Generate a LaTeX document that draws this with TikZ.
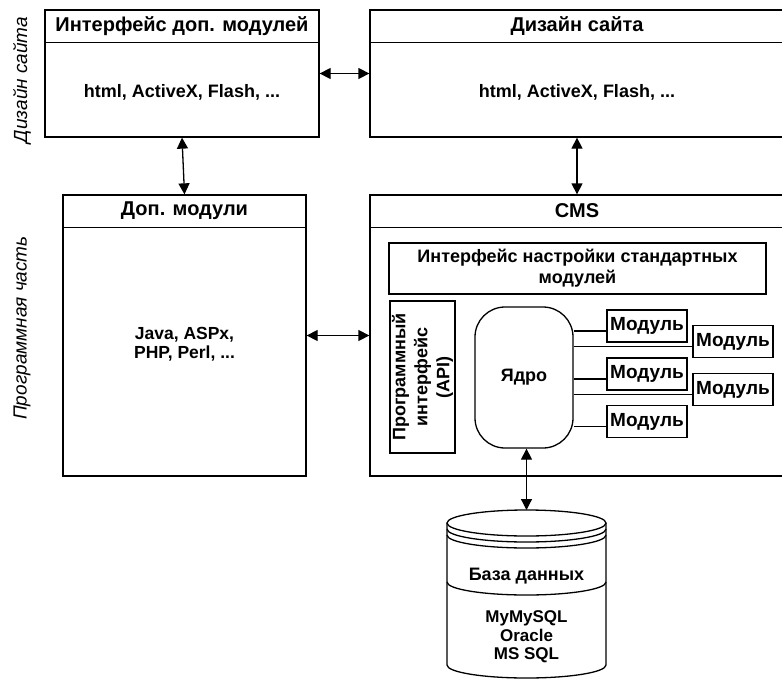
\documentclass[tikz,border=0pt]{standalone}
\usepackage{fontspec}
\setmainfont{Liberation Sans}
\usetikzlibrary{arrows.meta, positioning, calc}
\tikzset{
  panel/.style={draw, line width=1.3pt, inner sep=0pt},
  boxtext/.style={font=\fontsize{18}{19}\selectfont\bfseries, align=center, inner sep=0pt},
  sidetext/.style={font=\fontsize{19}{21}\selectfont\itshape, rotate=90},
  biarrow/.style={line width=1.3pt, {Triangle[length=11pt,width=11pt]}-{Triangle[length=11pt,width=11pt]}},
  modbox/.style={panel, minimum width=80pt, minimum height=32pt, boxtext, font=\fontsize{19}{21}\selectfont\bfseries},
  titlebar/.style={boxtext, font=\fontsize{20}{22}\selectfont\bfseries, minimum height=33pt, below=0pt of #1.north}
}

\begin{document}
\begin{tikzpicture}[x=1pt,y=-1pt]
\useasboundingbox (0,0) rectangle (782,680);

\node[sidetext] (sidedesign) at (22,80) {Дизайн сайта};
\node[sidetext] (sideprog) at (22,328) {Программная часть};

\node[panel, minimum width=274pt, minimum height=127pt] (addui) at (182,73.5) {};
\node[titlebar=addui] (adduititle) {Интерфейс доп. модулей};
\draw[line width=1.3pt] (adduititle.south -| addui.west) -- (adduititle.south -| addui.east);
\node[boxtext] (adduibody) at (182,92) {html, ActiveX, Flash, ...};

\node[panel, minimum width=414pt, minimum height=127pt] (design) at (577,73.5) {};
\node[titlebar=design] (designtitle) {Дизайн сайта};
\draw[line width=1.3pt] (designtitle.south -| design.west) -- (designtitle.south -| design.east);
\node[boxtext] (designbody) at (577,92) {html, ActiveX, Flash, ...};

\node[panel, minimum width=243pt, minimum height=281pt] (addmod) at (184.5,335.5) {};
\node[titlebar=addmod] (addmodtitle) {Доп. модули};
\draw[line width=1.3pt] (addmodtitle.south -| addmod.west) -- (addmodtitle.south -| addmod.east);
\node[boxtext, font=\fontsize{17.5}{18.5}\selectfont\bfseries] (addmodbody) at (184.5,344) {Java, ASPx,\\PHP, Perl, ...};

\node[panel, minimum width=414pt, minimum height=281pt] (cms) at (577,335.5) {};
\node[titlebar=cms] (cmstitle) {CMS};
\draw[line width=1.3pt] (cmstitle.south -| cms.west) -- (cmstitle.south -| cms.east);

\node[panel, boxtext, font=\fontsize{18}{21}\selectfont\bfseries, minimum width=377pt, minimum height=51pt] (settings) at (577.5,268.5)
  {Интерфейс настройки стандартных\\модулей};
\node[panel, minimum width=65pt, minimum height=152pt] (api) at (422.5,377) {};
\node[boxtext, rotate=90, font=\fontsize{18}{22}\selectfont\bfseries] (apitext) at (api)
  {Программный\\интерфейс\\(API)};
\node[panel, boxtext, font=\fontsize{18}{19}\selectfont\bfseries, rounded corners=30pt, minimum width=98pt, minimum height=141pt] (core) at (524,377.5) {Ядро};

\foreach \n/\x/\y in {1/647/326, 2/733/341.5, 3/647/374, 4/733/389.5, 5/647/421.5}{
  \node[modbox] (m\n) at (\x,\y) {Модуль};
  \draw[line width=1.3pt] ([yshift=-5pt]m\n.west) -- ([yshift=-5pt]m\n.west -| core.east);
}

\draw[line width=1.3pt] (526.5,523) ellipse [x radius=79.5, y radius=13];
\foreach \y in {529,535,582}
  \draw[line width=1.3pt] (447,\y) arc [start angle=180, end angle=0, x radius=79.5, y radius=13];
\draw[line width=1.3pt] (447,523) -- (447,665) arc [start angle=180, end angle=0, x radius=79.5, y radius=13] -- (606,523);
\coordinate (dbtop) at (526.5,510);
\node[boxtext] (dbtitle) at (526.5,576) {База данных};
\node[boxtext, font=\fontsize{17}{18.5}\selectfont\bfseries] (dblist) at (526.5,637) {MyMySQL\\Oracle\\MS SQL};

\draw[biarrow] (addui.east) -- (design.west);
\draw[biarrow] (addui.south) -- (addmod.north);
\draw[biarrow] (design.south) -- (cms.north);
\draw[biarrow] (addmod.east) -- (cms.west);
\draw[biarrow] (core.south -| dbtop) -- (dbtop);
\end{tikzpicture}
\end{document}
